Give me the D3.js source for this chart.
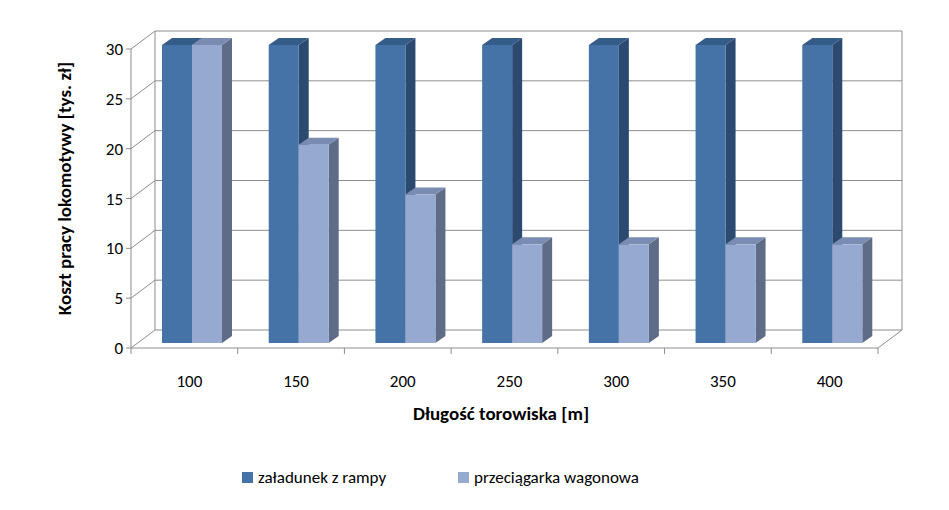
<!DOCTYPE html>
<html><head><meta charset="utf-8">
<script src="https://cdn.jsdelivr.net/npm/d3@7"></script>
<style>body{margin:0;background:#fff}</style>
</head><body><div id="chart"></div>
<script>
const categories = ["100", "150", "200", "250", "300", "350", "400"];
const rampa = [30, 30, 30, 30, 30, 30, 30];
const przeciagarka = [30, 20, 15, 10, 10, 10, 10];
const yTicks = [0, 5, 10, 15, 20, 25, 30];
const seriesNames = ["załadunek z rampy", "przeciągarka wagonowa"];

const width = 949, height = 510;
const font = "Calibri, Carlito, 'Liberation Sans', Arial, sans-serif";
const plotLeft = 131, plotRight = 878, base = 348, plotTop = 49;
const depthX = 24, depthY = -18;

const svg = d3.select("#chart").append("svg").attr("width", width).attr("height", height);

const x = d3.scaleBand().domain(categories).range([plotLeft, plotRight]);
const y = d3.scaleLinear().domain([0, 30]).range([base, plotTop]);

const grid = "#8c8c8c";
// back wall grid
yTicks.forEach(t => {
  svg.append("line").attr("x1", plotLeft + depthX).attr("x2", plotRight + depthX)
    .attr("y1", y(t) + depthY).attr("y2", y(t) + depthY).attr("stroke", grid);
  svg.append("line").attr("x1", plotLeft).attr("x2", plotLeft + depthX)
    .attr("y1", y(t)).attr("y2", y(t) + depthY).attr("stroke", grid);
});
svg.append("line").attr("x1", plotLeft + depthX).attr("x2", plotLeft + depthX)
  .attr("y1", y(30) + depthY).attr("y2", y(0) + depthY).attr("stroke", grid);
svg.append("line").attr("x1", plotRight + depthX).attr("x2", plotRight + depthX)
  .attr("y1", y(30) + depthY).attr("y2", y(0) + depthY).attr("stroke", grid);
svg.append("line").attr("x1", plotRight).attr("x2", plotRight + depthX)
  .attr("y1", base).attr("y2", base + depthY).attr("stroke", grid);

// front axes
svg.append("line").attr("x1", plotLeft).attr("x2", plotLeft).attr("y1", y(30)).attr("y2", base).attr("stroke", grid);
svg.append("line").attr("x1", plotLeft).attr("x2", plotRight).attr("y1", base).attr("y2", base).attr("stroke", grid);
yTicks.forEach(t => {
  svg.append("line").attr("x1", plotLeft - 5).attr("x2", plotLeft).attr("y1", y(t)).attr("y2", y(t)).attr("stroke", grid);
  svg.append("text").attr("x", plotLeft - 8).attr("y", y(t) + 6).attr("text-anchor", "end")
    .attr("font-family", font).attr("font-size", 17).text(t);
});
categories.forEach(c => {
  const xt = x(c) + x.bandwidth();
  svg.append("line").attr("x1", xt).attr("x2", xt).attr("y1", base).attr("y2", base + 6).attr("stroke", grid);
  svg.append("text").attr("x", x(c) + x.bandwidth() / 2 + 5).attr("y", base + 39).attr("text-anchor", "middle")
    .attr("font-family", font).attr("font-size", 17).text(c);
});
svg.append("line").attr("x1", plotLeft).attr("x2", plotLeft).attr("y1", base).attr("y2", base + 6).attr("stroke", grid);

// bars
const barW = 30, bdx = 10, bdy = -7, zOff = 5;
const styles = [
  {front: "#4572A7", side: "#2C4A70", top: "#355B89"},
  {front: "#95A9D1", side: "#5F6C88", top: "#7A8CB1"}
];
const series = [rampa, przeciagarka];
categories.forEach((c, i) => {
  series.forEach((s, k) => {
    const x0 = x(c) + 31 + k * barW;
    const yb = y(0) - zOff, yt = y(s[i]) - zOff + 1;
    const st = styles[k];
    svg.append("polygon").attr("fill", st.side)
      .attr("points", `${x0+barW},${yt} ${x0+barW+bdx},${yt+bdy} ${x0+barW+bdx},${yb+bdy} ${x0+barW},${yb}`);
    svg.append("polygon").attr("fill", st.top)
      .attr("points", `${x0},${yt} ${x0+bdx},${yt+bdy} ${x0+barW+bdx},${yt+bdy} ${x0+barW},${yt}`);
    svg.append("rect").attr("x", x0).attr("y", yt).attr("width", barW).attr("height", yb - yt).attr("fill", st.front);
  });
});

// titles
svg.append("text").attr("transform", `translate(71,${(plotTop + base) / 2 - 10}) rotate(-90)`)
  .attr("text-anchor", "middle").attr("font-family", font).attr("font-size", 19).attr("font-weight", "bold")
  .text("Koszt pracy lokomotywy [tys. zł]");
svg.append("text").attr("x", 501).attr("y", 420).attr("text-anchor", "middle")
  .attr("font-family", font).attr("font-size", 19).attr("font-weight", "bold").text("Długość torowiska [m]");

// legend
const legX = [242, 458];
seriesNames.forEach((n, k) => {
  svg.append("rect").attr("x", legX[k]).attr("y", 472).attr("width", 11).attr("height", 11).attr("fill", styles[k].front);
  svg.append("text").attr("x", legX[k] + 16).attr("y", 483).attr("font-family", font).attr("font-size", 17).text(n);
});
</script>
</body></html>
